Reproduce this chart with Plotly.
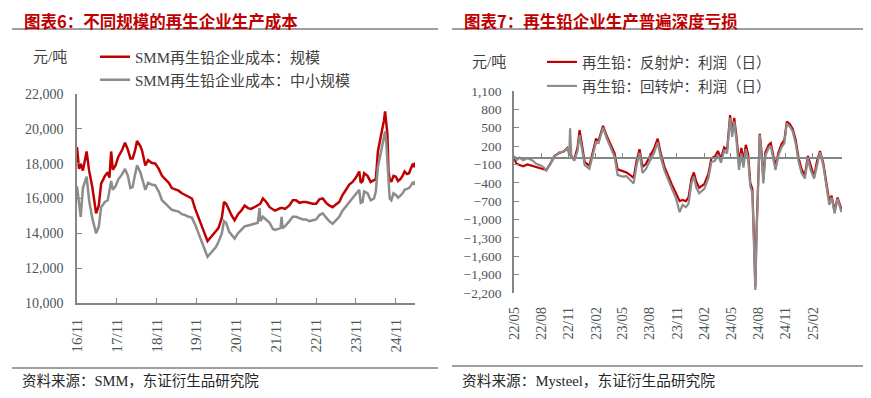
import plotly.graph_objects as go

# ---------------- Left chart data (元/吨) ----------------
left_dates = [
    "2016-11-01", "2016-11-20", "2016-12-05", "2016-12-25", "2017-01-28", "2017-02-20",
    "2017-03-20", "2017-04-25", "2017-05-20", "2017-06-10", "2017-07-15", "2017-08-10",
    "2017-08-25", "2017-09-10", "2017-09-25", "2017-10-20", "2017-11-15", "2017-12-20",
    "2018-01-15", "2018-02-10", "2018-03-05", "2018-03-25", "2018-04-15", "2018-05-05",
    "2018-06-05", "2018-06-20", "2018-07-20", "2018-08-15", "2018-09-15", "2018-10-20",
    "2018-11-20", "2018-12-20", "2019-01-20", "2019-02-20", "2019-03-20", "2019-04-20",
    "2019-05-20", "2019-06-20", "2019-07-20", "2019-08-20", "2019-09-20", "2019-10-20",
    "2019-11-20", "2019-12-20", "2020-01-20", "2020-02-10", "2020-03-01", "2020-03-25",
    "2020-04-25", "2020-05-20", "2020-06-20", "2020-07-10", "2020-07-30", "2020-08-25",
    "2020-09-20", "2020-10-15", "2020-11-15", "2020-12-15", "2021-01-15", "2021-02-15",
    "2021-03-15", "2021-04-15", "2021-05-15", "2021-06-01", "2021-06-08", "2021-07-01",
    "2021-08-01", "2021-09-01", "2021-10-01", "2021-10-20", "2021-12-10", "2021-12-20",
    "2021-12-28", "2022-01-20", "2022-03-01", "2022-04-01", "2022-05-01", "2022-06-01",
    "2022-07-01", "2022-08-01", "2022-09-01", "2022-10-01", "2022-11-01", "2022-12-01",
    "2023-01-01", "2023-02-01", "2023-03-01", "2023-04-01", "2023-05-01", "2023-06-01",
    "2023-07-01", "2023-08-01", "2023-09-01", "2023-10-01", "2023-11-01", "2023-12-01",
    "2023-12-15", "2024-01-01", "2024-01-15", "2024-02-15", "2024-03-15", "2024-04-15",
    "2024-05-01", "2024-05-20", "2024-06-05", "2024-06-25", "2024-07-15", "2024-07-25",
    "2024-08-05", "2024-08-15", "2024-08-25", "2024-09-05", "2024-09-20", "2024-10-10",
    "2024-11-01", "2024-11-20", "2024-12-10", "2025-01-01", "2025-01-20", "2025-02-10",
    "2025-03-01", "2025-03-20", "2025-04-05", "2025-04-15", "2025-04-25", "2025-05-01",
]
cost_large = [
    18950, 17700, 18000, 17600, 18700, 17600,
    16700, 15150, 15600, 16850, 17300, 17500,
    17200, 18700, 17650, 17900, 18400, 18800,
    19200, 18800, 18300, 18300, 18700, 19300,
    19000, 18750, 17900, 18200, 18050, 18000,
    17700, 17300, 17100, 16900, 16600, 16500,
    16450, 16300, 16200, 16100, 16000, 15400,
    14900, 14400, 14000, 13550, 13700, 13900,
    14100, 14300, 14900, 15800, 15700, 15300,
    15000, 14750, 15100, 15300, 15600, 15450,
    15400, 15500, 15600, 15650, 15700, 16000,
    15800, 15500, 15350, 15300, 15450, 15450,
    15450, 15400, 15600, 15900, 15900, 15750,
    15800, 15800, 15750, 15700, 15700, 15950,
    16000, 15750, 15600, 15500, 15650, 15800,
    16200, 16500, 16800, 16950, 17200, 17550,
    16900, 17000, 17450, 17300, 16950, 17050,
    17100, 18700, 19200, 19750, 20500, 21000,
    20400, 19700, 17600, 17100, 16950, 17300,
    17250, 17000, 17100, 17300, 17550, 17400,
    17450, 17700, 18000, 17800, 18050, 17850,
]
cost_small = [
    16700, 15600, 14950, 16600, 17250, 15900,
    14900, 14000, 14400, 15500, 15800, 15900,
    16400, 17000, 16500, 16700, 17100, 17400,
    17700, 17300, 16600, 16650, 17300, 17900,
    17500, 17200, 16500, 16900, 16800, 16750,
    16400, 15900, 15700, 15500, 15350, 15300,
    15250, 15100, 15050, 14950, 14900, 14500,
    14000, 13500, 13100, 12650, 12800, 12950,
    13200, 13500, 14000, 14700, 14600, 14100,
    13900, 13700, 14000, 14200, 14400, 14450,
    14500, 14550, 14600, 15450, 14700, 14950,
    14800, 14600, 14250, 14200, 14300, 14950,
    14300, 14400, 14700, 14950, 14950, 14850,
    14800, 14800, 14700, 14750, 14800, 15050,
    15150, 14900, 14700, 14550, 14750, 14950,
    15300, 15550, 15800, 16000, 16250, 16500,
    15750, 15800, 16400, 16300, 15900, 16000,
    16400, 17800, 18300, 18950, 19500, 19850,
    19200, 18100, 16600, 16000, 15900, 16300,
    16200, 16050, 16150, 16300, 16500, 16550,
    16600, 16750, 16950, 16800, 17000, 16900,
]
left_tickvals = ["2016-11-01", "2017-11-01", "2018-11-01", "2019-11-01", "2020-11-01",
                 "2021-11-01", "2022-11-01", "2023-11-01", "2024-11-01"]
left_ticktext = ["16/11", "17/11", "18/11", "19/11", "20/11", "21/11", "22/11", "23/11", "24/11"]

# ---------------- Right chart data (元/吨) ----------------
right_dates = [
    "2022-05-01", "2022-05-10", "2022-05-20", "2022-06-01", "2022-06-15", "2022-07-01",
    "2022-07-15", "2022-08-01", "2022-08-10", "2022-08-18", "2022-09-01", "2022-09-15",
    "2022-10-01", "2022-10-15", "2022-10-28", "2022-11-03", "2022-11-06", "2022-11-10",
    "2022-11-20", "2022-12-01", "2022-12-08", "2022-12-15", "2022-12-25", "2023-01-10",
    "2023-01-20", "2023-02-01", "2023-02-10", "2023-02-25", "2023-03-10", "2023-03-25",
    "2023-04-05", "2023-04-15", "2023-05-01", "2023-05-15", "2023-06-01", "2023-06-08",
    "2023-06-18", "2023-06-28", "2023-07-08", "2023-07-20", "2023-08-01", "2023-08-15",
    "2023-08-28", "2023-09-08", "2023-09-20", "2023-10-01", "2023-10-15", "2023-10-28",
    "2023-11-10", "2023-11-20", "2023-12-01", "2023-12-10", "2023-12-20", "2023-12-28",
    "2024-01-05", "2024-01-15", "2024-02-01", "2024-02-15", "2024-02-25", "2024-03-08",
    "2024-03-18", "2024-03-28", "2024-04-08", "2024-04-18", "2024-04-28", "2024-05-05",
    "2024-05-12", "2024-05-20", "2024-05-28", "2024-06-05", "2024-06-12", "2024-06-20",
    "2024-06-28", "2024-07-05", "2024-07-12", "2024-07-18", "2024-07-22", "2024-07-26",
    "2024-08-01", "2024-08-06", "2024-08-12", "2024-08-18", "2024-08-25", "2024-09-05",
    "2024-09-12", "2024-09-20", "2024-09-28", "2024-10-08", "2024-10-18", "2024-10-28",
    "2024-11-05", "2024-11-15", "2024-11-25", "2024-12-05", "2024-12-15", "2024-12-25",
    "2025-01-05", "2025-01-15", "2025-01-25", "2025-02-05", "2025-02-15", "2025-02-25",
    "2025-03-08", "2025-03-18", "2025-03-28", "2025-04-05", "2025-04-15", "2025-04-25",
    "2025-05-08",
]
profit_reverb = [
    0, -90, -110, -130, -100, -120,
    -140, -160, -170, -190, -80, 40,
    90, 110, 170, 80, 60, 40,
    -20, 180, 460, 250, -60, -120,
    80, 310, 290, 530, 360, 200,
    80, -180, -200, -230, -290, -320,
    -40, 150, -140, -90, 30, 150,
    320, 70, -140, -280, -430, -560,
    -700, -680, -700, -640, -330, -230,
    -380, -480, -420, -250, 0, 30,
    120, -10, 180, 140, 705, 420,
    660, 340, -80, 170, -50, 220,
    60, -400, -500, -1400, -2100, -1200,
    -200, 400, 100, -350, 100, 220,
    250, 60, -130, 100, 230, 300,
    600, 560, 480, 300, 0, -180,
    -280, 40, -140, -300, -40, 120,
    -80, -380, -700, -610, -860, -640,
    -830,
]
profit_rotary = [
    40, -30, 10, -30, 0, -30,
    -90, -120, -150, -200, -90, 30,
    100, 110, 160, 60, 490, 50,
    -40, 120, 380, 190, -110, -170,
    20, 260, 250, 500, 320, 150,
    20, -270, -300, -290, -380, -410,
    -120, 90, -240, -170, -50, 80,
    260, 0, -200, -340, -500, -640,
    -880, -760, -800, -740, -400, -300,
    -480, -570, -500, -320, -60, -40,
    60, -70, 120, 80, 660, 350,
    600, 260, -190, 80, -150, 150,
    -20, -460, -560, -1500, -2150, -1300,
    -300, 380, 40, -410, 50, 170,
    200, 0, -190, 50, 180, 250,
    570, 520, 440, 240, -60, -240,
    -330, -10, -200, -330, -90, 100,
    -120, -420, -760, -640, -900, -660,
    -880,
]
right_tickvals = ["2022-05-01", "2022-08-01", "2022-11-01", "2023-02-01", "2023-05-01",
                  "2023-08-01", "2023-11-01", "2024-02-01", "2024-05-01", "2024-08-01",
                  "2024-11-01", "2025-02-01"]
right_ticktext = ["22/05", "22/08", "22/11", "23/02", "23/05", "23/08", "23/11",
                  "24/02", "24/05", "24/08", "24/11", "25/02"]

# ---------------- Styling ----------------
W, H = 871, 398
OFF = 8  # page body margin: paper starts 8px right/below the window corner
RED = "#c00000"
GRAY = "#8c8c8c"
AXIS = "#7f8787"
TICKC = "#4d5656"
SERIF = "Liberation Serif, Noto Sans CJK SC"
CJK = "Noto Sans CJK SC"

def px(x):
    return (x - OFF) / W

def py(y):
    return 1 - (y - OFF) / H

fig = go.Figure()

fig.add_trace(go.Scatter(x=left_dates, y=cost_large, mode="lines", name="SMM再生铅企业成本：规模",
                         line=dict(color=RED, width=2.5), xaxis="x", yaxis="y", legend="legend"))
fig.add_trace(go.Scatter(x=left_dates, y=cost_small, mode="lines", name="SMM再生铅企业成本：中小规模",
                         line=dict(color=GRAY, width=2.5), xaxis="x", yaxis="y", legend="legend2"))
fig.add_trace(go.Scatter(x=right_dates, y=profit_reverb, mode="lines", name="再生铅：反射炉：利润（日）",
                         line=dict(color=RED, width=2.2), xaxis="x2", yaxis="y2", legend="legend3"))
fig.add_trace(go.Scatter(x=right_dates, y=profit_rotary, mode="lines", name="再生铅：回转炉：利润（日）",
                         line=dict(color=GRAY, width=2.2), xaxis="x2", yaxis="y2", legend="legend4"))
# invisible trace to activate the zero-line axis of the right chart
fig.add_trace(go.Scatter(x=right_dates[:1], y=[0], mode="lines", showlegend=False, hoverinfo="skip",
                         line=dict(width=0), xaxis="x3", yaxis="y2"))

left_y_dom = [py(303), py(94)]
right_y_dom = [py(293), py(91)]
zero_pos = right_y_dom[0] + (0 - (-2200)) / (1100 - (-2200)) * (right_y_dom[1] - right_y_dom[0])

legend_common = dict(bgcolor="rgba(0,0,0,0)", borderwidth=0, itemwidth=30,
                     xanchor="left", yanchor="middle", itemclick=False, itemdoubleclick=False)
lfont = dict(family=SERIF, size=15, color="#404040")
rfont = dict(family=SERIF, size=14.5, color="#404040")

fig.update_layout(
    width=W, height=H, margin=dict(l=0, r=0, t=0, b=0, autoexpand=False),
    paper_bgcolor="white", plot_bgcolor="white",
    showlegend=True,
    xaxis=dict(domain=[px(77), px(415)], anchor="y", type="date",
               range=["2016-11-01", "2025-04-25"],
               tickmode="array", tickvals=left_tickvals, ticktext=left_ticktext,
               tickangle=-90, ticks="inside", ticklen=5, tickcolor=AXIS, tickwidth=1,
               showline=True, linecolor=AXIS, linewidth=1.5, showgrid=False, zeroline=False,
               ticklabelstandoff=8,
               tickfont=dict(family=SERIF, size=15, color=TICKC)),
    yaxis=dict(domain=left_y_dom, anchor="x", range=[10000, 22000], dtick=2000,
               tickformat=",d", ticks="inside", ticklen=5, tickcolor=AXIS,
               showline=True, linecolor=AXIS, linewidth=1.5, showgrid=False, zeroline=False,
               ticklabelstandoff=9,
               tickfont=dict(family=SERIF, size=14, color=TICKC)),
    xaxis2=dict(domain=[px(514), px(842)], anchor="y2", type="date",
                range=["2022-05-01", "2025-05-10"],
                tickmode="array", tickvals=right_tickvals, ticktext=right_ticktext,
                tickangle=-90, ticks="", showline=False, showgrid=False, zeroline=False,
                ticklabelstandoff=10,
                tickfont=dict(family=SERIF, size=14.5, color=TICKC)),
    xaxis3=dict(overlaying="x2", anchor="free", position=zero_pos, side="bottom", type="date",
                range=["2022-05-01", "2025-05-10"],
                tickmode="array", tickvals=right_tickvals, ticktext=right_ticktext,
                showticklabels=False, ticks="inside", ticklen=5, tickcolor=AXIS,
                showline=True, linecolor=AXIS, linewidth=1.5, showgrid=False, zeroline=False),
    yaxis2=dict(domain=right_y_dom, anchor="x2", range=[-2200, 1100], tick0=-2200, dtick=300,
                tickformat=",d", ticks="inside", ticklen=5, tickcolor=AXIS,
                showline=True, linecolor=AXIS, linewidth=1.5, showgrid=False, zeroline=False,
                ticklabelstandoff=8,
                tickfont=dict(family=SERIF, size=13.5, color=TICKC)),
    legend=dict(x=px(95), y=py(57), font=lfont, **legend_common),
    legend2=dict(x=px(95), y=py(80), font=lfont, **legend_common),
    legend3=dict(x=px(542), y=py(62), font=rfont, **legend_common),
    legend4=dict(x=px(542), y=py(86), font=rfont, **legend_common),
)

# Titles, units, sources
ann = [
    dict(x=px(23), y=py(8), text="<b>图表6：不同规模的再生企业生产成本</b>", xanchor="left", yanchor="top",
         font=dict(family=CJK, size=16.5, color=RED)),
    dict(x=px(463), y=py(8), text="<b>图表7：再生铅企业生产普遍深度亏损</b>", xanchor="left", yanchor="top",
         font=dict(family=CJK, size=16.5, color=RED)),
    dict(x=px(32), y=py(57), text="元/吨", xanchor="left", yanchor="middle",
         font=dict(family=SERIF, size=15, color="#404040")),
    dict(x=px(471), y=py(62), text="元/吨", xanchor="left", yanchor="middle",
         font=dict(family=SERIF, size=15, color="#404040")),
    dict(x=px(21), y=py(381), text="资料来源：SMM，东证衍生品研究院", xanchor="left", yanchor="middle",
         font=dict(family=SERIF, size=14.5, color="#262626")),
    dict(x=px(461), y=py(380), text="资料来源：Mysteel，东证衍生品研究院", xanchor="left", yanchor="middle",
         font=dict(family=SERIF, size=14.7, color="#262626")),
]
for a in ann:
    a.update(xref="paper", yref="paper", showarrow=False, borderpad=0)
fig.update_layout(annotations=ann)

rule = dict(color="#7f7f7f", width=1.5)
fig.update_layout(shapes=[
    dict(type="line", xref="paper", yref="paper", x0=px(12), x1=px(438), y0=py(29), y1=py(29), line=rule),
    dict(type="line", xref="paper", yref="paper", x0=px(452), x1=px(868), y0=py(29), y1=py(29), line=rule),
    dict(type="line", xref="paper", yref="paper", x0=px(12), x1=px(438), y0=py(368), y1=py(368), line=rule),
    dict(type="line", xref="paper", yref="paper", x0=px(452), x1=px(868), y0=py(366), y1=py(366), line=rule),
])

fig.write_html("out.html")
